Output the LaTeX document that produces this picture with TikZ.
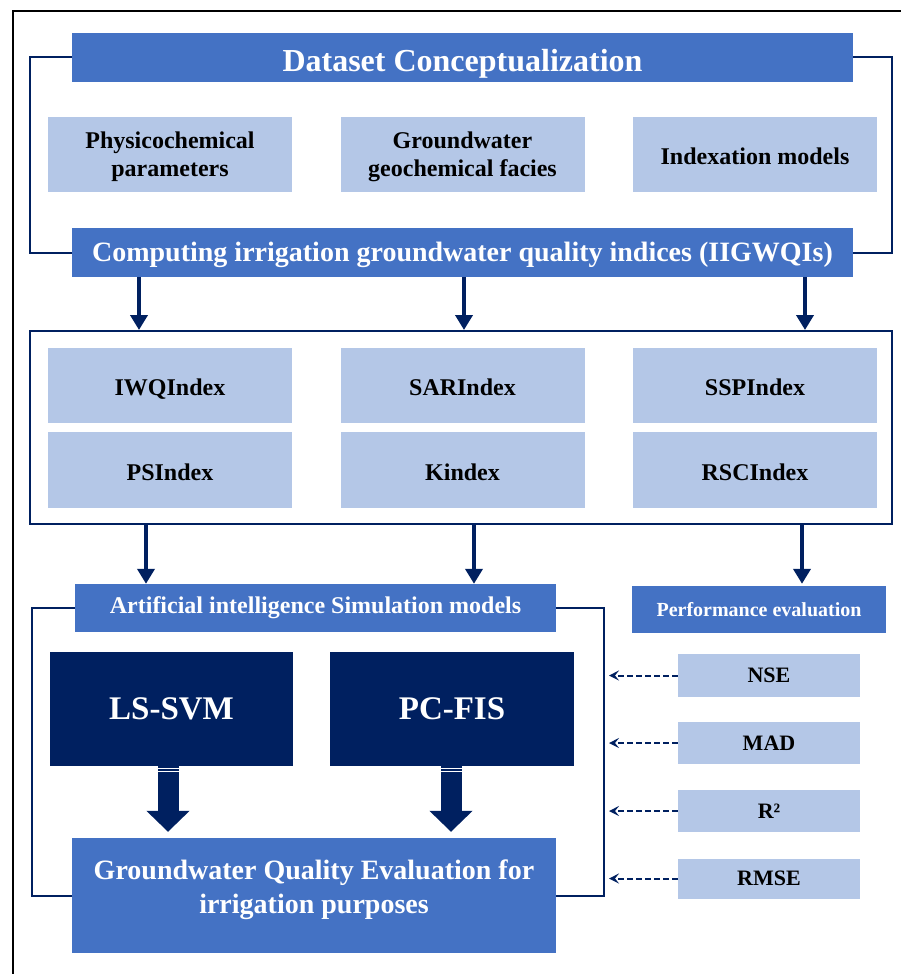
\documentclass[tikz,border=0pt]{standalone}
\usepackage{fontspec}
\setmainfont{Liberation Serif}
\usetikzlibrary{arrows.meta, positioning, calc}

\definecolor{midblue}{HTML}{4472C4}
\definecolor{paleblue}{HTML}{B4C7E7}
\definecolor{navy}{HTML}{002060}

\begin{document}
\begin{tikzpicture}[
    x=1pt, y=-1pt,
    every node/.style={inner sep=0pt, align=center},
    headbox/.style={fill=midblue, text=white, font=\fontsize{28}{32}\selectfont\bfseries},
    itembox/.style={fill=paleblue, text=black, minimum width=244pt, font=\fontsize{24}{28}\selectfont\bfseries},
    oneline/.style={text height=22pt, text depth=2pt},
    modelbox/.style={fill=navy, text=white, minimum width=244pt, minimum height=114pt, font=\fontsize{33}{38}\selectfont\bfseries},
    metricbox/.style={fill=paleblue, text=black, minimum width=182pt, minimum height=42pt, font=\fontsize{22}{26}\selectfont\bfseries},
    bracket/.style={draw=navy, line width=2pt},
    flow/.style={draw=navy, line width=4pt, -{Triangle[width=17pt,length=15pt]}},
    bigflow/.style={draw=navy, line width=21pt, -{Triangle[width=42pt,length=21pt]}},
    metricflow/.style={draw=navy, line width=2pt, dash pattern=on 6pt off 3pt, -{Stealth[length=10pt,width=10pt,inset=4pt]}}
]
\useasboundingbox (0,0) rectangle (901,974);
\draw[line width=1.5pt] (13,974) -- (13,11) -- (901,11);

% dataset part
\node[headbox, minimum width=781pt, minimum height=49pt, text height=28pt, text depth=1pt, font=\fontsize{32}{36}\selectfont\bfseries] (dataset) at (462.5,57.5) {Dataset Conceptualization};
\node[itembox, minimum height=75pt, text depth=0pt] (physico) at (170,154.5) {Physicochemical\\parameters};
\node[itembox, minimum height=75pt, text depth=0pt] (facies) at (462.5,154.5) {Groundwater\\geochemical facies};
\node[itembox, oneline, minimum height=75pt] (indexation) at (755,154.5) {Indexation models};
\node[headbox, minimum width=781pt, minimum height=49pt, text height=21pt, text depth=2.5pt] (computing) at (462.5,252.5) {Computing irrigation groundwater quality indices (IIGWQIs)};

\coordinate (bl) at (30,0);
\coordinate (br) at (892,0);
\draw[bracket] (dataset.west) -| (bl |- computing.west) -- (computing.west);
\draw[bracket] (dataset.east) -| (br |- computing.east) -- (computing.east);

% indices
\node[draw=navy, line width=2pt, minimum width=862pt, minimum height=193pt] (indices) at (461,427.5) {};
\node[itembox, oneline, minimum height=75pt] (iwq) at (170,385.5) {IWQIndex};
\node[itembox, oneline, minimum height=75pt] (sar) at (462.5,385.5) {SARIndex};
\node[itembox, oneline, minimum height=75pt] (ssp) at (755,385.5) {SSPIndex};
\node[itembox, oneline, minimum height=76pt] (ps) at (170,470) {PSIndex};
\node[itembox, oneline, minimum height=76pt] (kidx) at (462.5,470) {Kindex};
\node[itembox, oneline, minimum height=76pt] (rsc) at (755,470) {RSCIndex};

\coordinate (a1) at (139,0);
\coordinate (a2) at (464,0);
\coordinate (a3) at (805,0);
\draw[flow] (computing.south -| a1) -- (indices.north -| a1);
\draw[flow] (computing.south -| a2) -- (indices.north -| a2);
\draw[flow] (computing.south -| a3) -- (indices.north -| a3);

% models
\node[headbox, minimum width=481pt, minimum height=48pt, font=\fontsize{24}{28}\selectfont\bfseries] (ai) at (315.5,608) {Artificial intelligence Simulation models};
\node[headbox, minimum width=254pt, minimum height=47pt, font=\fontsize{20}{24}\selectfont\bfseries] (perf) at (759,609.5) {Performance evaluation};

\coordinate (b1) at (146,0);
\coordinate (b2) at (474,0);
\coordinate (b3) at (802,0);
\draw[flow] (indices.south -| b1) -- (ai.north -| b1);
\draw[flow] (indices.south -| b2) -- (ai.north -| b2);
\draw[flow] (indices.south -| b3) -- ([yshift=2pt]perf.north -| b3);

\node[modelbox, minimum width=243pt] (lssvm) at (171.5,709) {LS-SVM};
\node[modelbox] (pcfis) at (452,709) {PC-FIS};
\node[headbox, minimum width=484pt, minimum height=115pt, text depth=18pt, font=\fontsize{28}{34}\selectfont\bfseries] (gqe) at (314,895.5) {Groundwater Quality Evaluation for\\irrigation purposes};

\coordinate (c1) at (168,0);
\coordinate (c2) at (451,0);
\draw[bigflow, shorten >=6pt] (lssvm.south -| c1) -- (gqe.north -| c1);
\draw[bigflow, shorten >=6pt] (pcfis.south -| c2) -- (gqe.north -| c2);
\foreach \s in {2.5,5} {
  \draw[white, line width=0.7pt] ($(lssvm.south -| c1)+(-10.5,\s)$) -- ++(21,0);
  \draw[white, line width=0.7pt] ($(pcfis.south -| c2)+(-10.5,\s)$) -- ++(21,0);
}

\coordinate (al) at (32,0);
\coordinate (ar) at (604,0);
\draw[bracket] (ai.west) -| (al |- gqe.west) -- (gqe.west);
\draw[bracket] (ai.east) -| (ar |- gqe.east) -- (gqe.east);

% metrics
\node[metricbox, minimum height=43pt] (nse) at (769,675.5) {NSE};
\node[metricbox] (mad) at (769,743) {MAD};
\node[metricbox] (rsq) at (769,811) {R²};
\node[metricbox, minimum height=40pt] (rmse) at (769,878.5) {RMSE};

\coordinate (m) at (609,0);
\draw[metricflow] (nse.west) -- (nse.west -| m);
\draw[metricflow] (mad.west) -- (mad.west -| m);
\draw[metricflow] (rsq.west) -- (rsq.west -| m);
\draw[metricflow] (rmse.west) -- (rmse.west -| m);
\end{tikzpicture}
\end{document}
